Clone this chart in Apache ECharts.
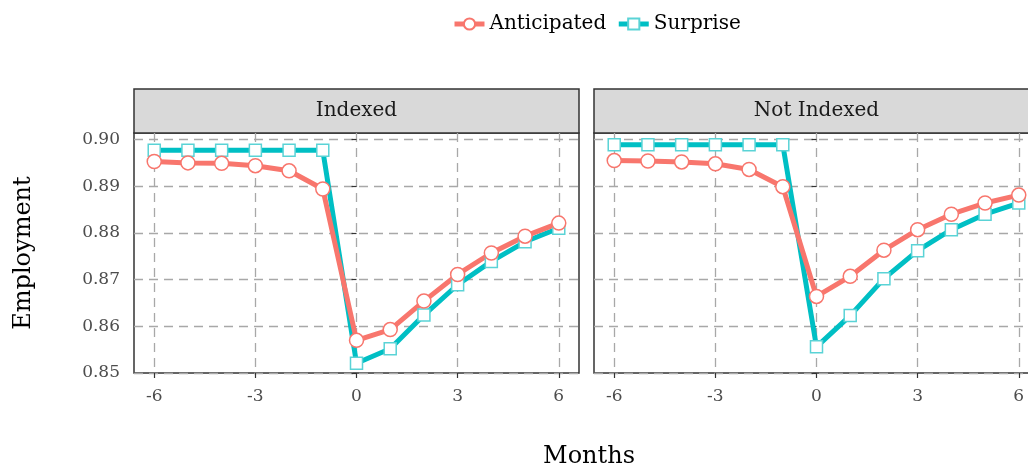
<!DOCTYPE html>
<html>
<head>
<meta charset="utf-8">
<script src="https://cdn.jsdelivr.net/npm/echarts@6/dist/echarts.min.js"></script>
<style>html,body{margin:0;padding:0;background:#fff;}#c{width:1028px;height:470px;}</style>
</head>
<body>
<div id="c"></div>
<script>
// ---- data ----
var months = [-6,-5,-4,-3,-2,-1,0,1,2,3,4,5,6];
var panels = ['Indexed', 'Not Indexed'];
var seriesNames = ['Anticipated', 'Surprise'];
var indexedAnticipated = [0.8953,0.8950,0.8949,0.8944,0.8933,0.8894,0.8570,0.8593,0.8654,0.8711,0.8757,0.8793,0.8821];
var indexedSurprise    = [0.8977,0.8977,0.8977,0.8977,0.8977,0.8977,0.8521,0.8552,0.8624,0.8689,0.8739,0.8781,0.8810];
var notIndexedAnticipated = [0.8955,0.8954,0.8952,0.8948,0.8936,0.8899,0.8664,0.8707,0.8763,0.8807,0.8840,0.8864,0.8881];
var notIndexedSurprise    = [0.8989,0.8989,0.8989,0.8989,0.8989,0.8989,0.8556,0.8623,0.8702,0.8762,0.8807,0.8840,0.8864];
var xTicks = [-6,-3,0,3,6];
var yTicks = [0.85,0.86,0.87,0.88,0.89,0.90];

// ---- layout ----
var FONT = 'DejaVu Serif';
var plotTop = 133, plotH = 240, plotW = 445, stripH = 44;
var lefts = [134, 594];
var colors = {Anticipated: '#F8766D', Surprise: '#00BFC4'};

function pairs(xs, ys){ return xs.map(function(x,i){ return [x, ys[i]]; }); }

var grids = [], xAxes = [], yAxes = [], series = [], graphics = [];
var panelData = [[indexedAnticipated, indexedSurprise],[notIndexedAnticipated, notIndexedSurprise]];

panels.forEach(function(p, i){
  grids.push({left: lefts[i], top: plotTop, width: plotW, height: plotH, show: true,
    borderColor: '#333333', borderWidth: 1.5, backgroundColor: '#ffffff',
    containLabel: false, outerBoundsMode: 'none'});
  xAxes.push({type: 'value', gridIndex: i, min: -6.6, max: 6.6,
    axisLine: {show: false},
    axisTick: {show: true, length: 5, lineStyle: {color: '#333333', width: 1.2}, customValues: xTicks},
    axisLabel: {show: true, customValues: xTicks, color: '#4D4D4D', fontFamily: FONT, fontSize: 17, margin: 15},
    splitLine: {show: true, lineStyle: {color: '#A8A8A8', width: 1.3, type: [9,6]}}
  });
  yAxes.push({type: 'value', gridIndex: i, min: 0.85, max: 0.9014,
    axisLine: {show: false},
    axisTick: {show: true, length: 5, lineStyle: {color: '#333333', width: 1.2}, customValues: yTicks},
    axisLabel: {show: i === 0, customValues: yTicks, color: '#4D4D4D', fontFamily: FONT, fontSize: 17, margin: 14,
      formatter: function(v){ return Number(v).toFixed(2); }},
    splitLine: {show: true, lineStyle: {color: '#A8A8A8', width: 1.3, type: [9,6]}},
    name: i === 0 ? 'Employment' : '', nameLocation: 'middle', nameGap: 98, nameRotate: 90,
    nameTextStyle: {fontFamily: FONT, fontSize: 24, color: '#000'}
  });
  // Surprise drawn first, Anticipated on top
  [1,0].forEach(function(k){
    var nm = seriesNames[k];
    series.push({
      name: nm, type: 'line', xAxisIndex: i, yAxisIndex: i,
      data: pairs(months, panelData[i][k]),
      symbol: k === 0 ? 'circle' : 'rect',
      symbolSize: k === 0 ? 14 : 12,
      showAllSymbol: true,
      lineStyle: {color: colors[nm], width: 5},
      itemStyle: {color: '#ffffff', borderColor: k === 0 ? colors[nm] : '#5ad3d6', borderWidth: 1.5},
      emphasis: {disabled: true},
      animation: false
    });
  });
  graphics.push({type: 'rect', shape: {x: lefts[i], y: plotTop - stripH, width: plotW, height: stripH},
    style: {fill: '#D9D9D9', stroke: '#333333', lineWidth: 1.5}});
  graphics.push({type: 'text', x: lefts[i] + plotW/2, y: plotTop - stripH/2,
    style: {text: p, font: '20px "' + FONT + '"', fill: '#1A1A1A', align: 'center', verticalAlign: 'middle'}});
});

var chart = echarts.init(document.getElementById('c'), null, {renderer: 'canvas'});
chart.setOption({
  animation: false,
  backgroundColor: '#ffffff',
  legend: {
    data: seriesNames, left: 447, top: 9, itemWidth: 30, itemHeight: 14, itemGap: 10,
    lineStyle: {width: 5},
    textStyle: {fontFamily: FONT, fontSize: 20, color: '#000'}
  },
  title: {text: 'Months', left: 584, top: 440, textAlign: 'center',
    textStyle: {fontFamily: FONT, fontSize: 24, fontWeight: 'normal', color: '#000'}},
  grid: grids, xAxis: xAxes, yAxis: yAxes, series: series,
  graphic: graphics
});
</script>
</body>
</html>
